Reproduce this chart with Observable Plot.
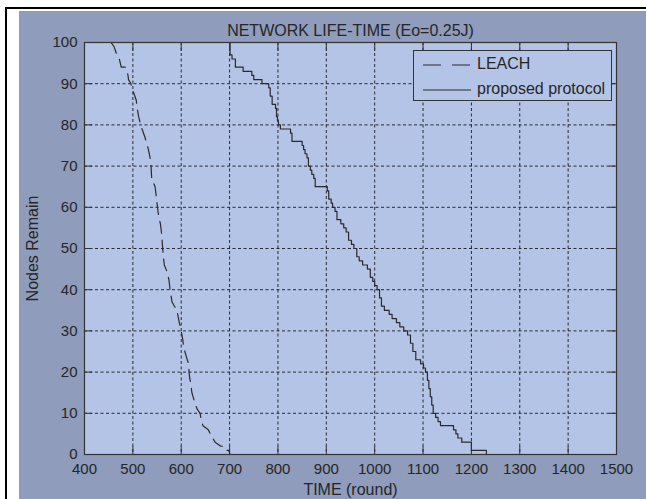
<!DOCTYPE html>
<html><head><meta charset="utf-8">
<script src="https://cdn.jsdelivr.net/npm/d3@7"></script>
<script src="https://cdn.jsdelivr.net/npm/@observablehq/plot@0.6"></script>
<style>
html,body{margin:0;padding:0;background:#fff;width:646px;height:499px;overflow:hidden;font-family:"Liberation Sans",Arial,sans-serif;}
#frameL{position:absolute;left:5px;top:7px;width:2px;height:492px;background:#000;}
#frameT{position:absolute;left:5px;top:7px;width:641px;height:2px;background:#000;}
#panel{position:absolute;left:19px;top:11px;right:0;bottom:0;background:#8f9cbb;}
#chart{position:absolute;left:0;top:0;}
#legend{position:absolute;left:413px;top:50px;width:197px;height:49px;border:1px solid #333;background:#b4c4e6;color:#262626;font-size:16px;}
#legend .row{position:absolute;left:0;height:20px;width:197px;}
#legend svg{position:absolute;left:9px;top:5px;}
#legend span{position:absolute;left:63px;top:1px;white-space:nowrap;}
</style></head><body>
<div id="frameL"></div><div id="frameT"></div><div id="panel"></div>
<div id="chart"></div>
<div id="legend"></div>
<script>
const titleText = "NETWORK LIFE-TIME (Eo=0.25J)";
const xLabel = "TIME (round)";
const yLabel = "Nodes Remain";
const seriesNames = ["LEACH", "proposed protocol"];
const xTicks = [400,500,600,700,800,900,1000,1100,1200,1300,1400,1500];
const yTicks = [0,10,20,30,40,50,60,70,80,90,100];

const leachTime = [455,461,464,467,472,474,476,484,488,490,491,496,498,501,504,507,509,512,514,516,519,525,530,534,537,539,546,549,551,553,557,560,561,563,565,572,575,577,581,586,591,596,600,603,605,610,615,617,620,622,627,633,639,642,645,656,660,665,670,682,690,695,698,701];
const leachNodes = [100,99,98,97,96,95,94,94,93,92,91,90,89,88,87,86,84,82,81,80,79,77,75,73,71,67,65,62,60,58,56,53,51,48,46,44,42,40,37,36,35,32,30,28,26,24,22,19,17,15,13,11,10,8,7,6,5,4,3,2,2,1,1,0];

const propTime = [700,701,705,712,728,746,750,767,781,784,788,795,797,799,801,805,826,829,850,853,856,860,863,867,870,874,877,902,905,910,913,918,922,930,936,941,946,952,957,963,968,975,985,991,996,1000,1005,1010,1014,1020,1030,1036,1045,1052,1060,1068,1074,1079,1085,1095,1101,1105,1109,1112,1115,1118,1121,1126,1131,1136,1163,1168,1172,1180,1188,1200,1231];
const propNodes = [100,97,96,94,93,92,91,90,89,87,85,84,82,81,80,79,78,76,75,74,73,72,70,69,68,67,65,64,62,61,60,59,57,56,55,54,52,51,50,48,47,46,45,43,42,41,40,38,36,35,34,33,32,31,30,29,27,25,23,22,21,20,18,16,14,12,10,9,8,7,6,5,4,3,3,1,0];

const leach = leachTime.map((t,i)=>({t, n: leachNodes[i]}));
const prop = propTime.map((t,i)=>({t, n: propNodes[i]}));

const inner = "#b4c4e6";
const ink = "#262626";
const gridStyle = {stroke:"#1a1a1a", strokeOpacity:0.9, strokeWidth:1, strokeDasharray:"3,2.5"};
const fmt = d3.format("d");

const chart = Plot.plot({
  width: 646, height: 499,
  marginLeft: 84, marginRight: 30, marginTop: 42, marginBottom: 45,
  style: {background: "transparent", fontFamily: '"Liberation Sans", Arial, sans-serif', fontSize: "15px", color: ink},
  x: {domain: [400,1500], ticks: xTicks, tickFormat: fmt},
  y: {domain: [0,100], ticks: yTicks, tickFormat: fmt},
  marks: [
    Plot.frame({fill: inner}),
    Plot.gridX(xTicks, gridStyle),
    Plot.gridY(yTicks, gridStyle),
    Plot.line(leach, {x:"t", y:"n", stroke:"#2a2a2a", strokeWidth:1.2, strokeDasharray:"12,7"}),
    Plot.line(prop, {x:"t", y:"n", curve:"step-after", stroke:"#2a2a2a", strokeWidth:1.2}),
    Plot.frame({stroke:"#333", strokeWidth:1.2}),
    Plot.axisX(xTicks, {anchor:"bottom", tickSize:-8, tickPadding:17, tickFormat: fmt, stroke:"#333", fill:ink, fontSize:15, label:xLabel, labelAnchor:"center", labelArrow:"none", labelOffset:40}),
    Plot.axisX(xTicks, {anchor:"top", tickSize:-8, text:null, stroke:"#333", label:null}),
    Plot.axisY(yTicks, {anchor:"left", tickSize:-8, tickPadding:15, tickFormat: fmt, stroke:"#333", fill:ink, fontSize:15, label:yLabel, labelAnchor:"center", labelArrow:"none", labelOffset:58}),
    Plot.axisY(yTicks, {anchor:"right", tickSize:-8, text:null, stroke:"#333", label:null}),
    Plot.text([titleText], {frameAnchor:"top", dy:-12, fontSize:16, fill:ink, lineAnchor:"middle"})
  ]
});
d3.select(chart).selectAll("[aria-label$='axis label'] text").attr("font-size", 16);
document.getElementById("chart").appendChild(chart);

// legend
const lg = d3.select("#legend");
const rows = [{name: seriesNames[0], dash:"18,11", top:3}, {name: seriesNames[1], dash:null, top:28}];
rows.forEach(r => {
  const row = lg.append("div").attr("class","row").style("top", r.top+"px");
  const s = row.append("svg").attr("width",50).attr("height",12);
  s.append("line").attr("x1",0).attr("x2",48).attr("y1",6).attr("y2",6)
    .attr("stroke","#2a2a2a").attr("stroke-width",1.2).attr("stroke-dasharray", r.dash);
  row.append("span").text(r.name);
});
</script>
</body></html>
